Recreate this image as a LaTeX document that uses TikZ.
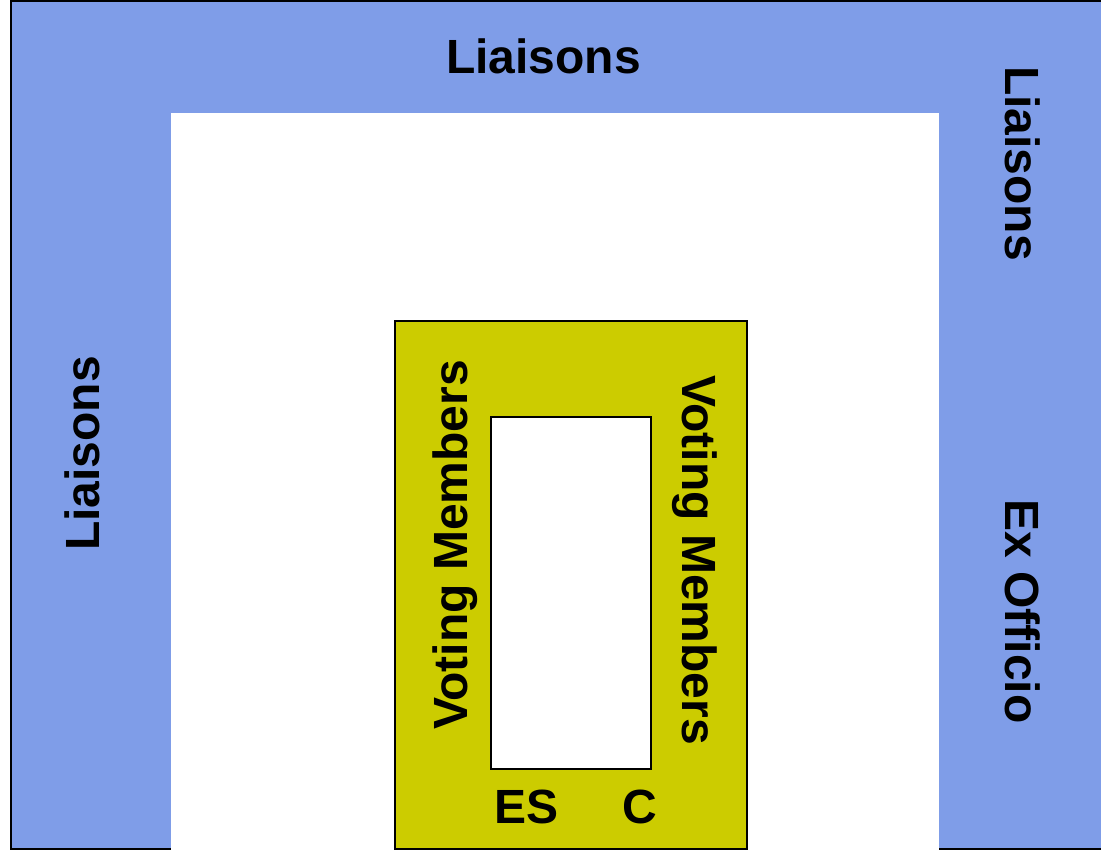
\documentclass[tikz,border=0pt]{standalone}
\usepackage{fontspec}
\setmainfont{Liberation Sans}
\usepackage{tikz}
\definecolor{liaisonblue}{RGB}{127,157,232}
\definecolor{voteyellow}{RGB}{204,204,0}
\tikzset{
	lbl/.style={inner sep=0pt, anchor=base, font=\fontsize{48}{58}\selectfont\bfseries},
	frame/.style={draw=black, line width=2.4pt}
}

\begin{document}
\begin{tikzpicture}[x=1pt,y=-1pt]
		\useasboundingbox (0,0) rectangle (1101,852);
		% outer ring of liaisons
		\fill[liaisonblue] (11,1) rectangle (1104,849);
		\draw[frame] (1104,1) -- (11,1) -- (11,849) -- (1104,849);
		\fill[white] (171,113) rectangle (939,854);
		% voting block
		\draw[frame, fill=voteyellow] (395,321) rectangle (747,849);
		\draw[frame, fill=white] (491,417) rectangle (651,769);
		%
		\node[lbl] (ltop) at (543.5,73) {Liaisons};
		\node[lbl, rotate=90] (lleft) at (99,453.5) {Liaisons};
		\node[lbl, rotate=-90] (lright) at (1005,163.5) {Liaisons};
		\node[lbl, rotate=-90] (exoff) at (1005,611.5) {Ex Officio};
		\node[lbl, rotate=90] (vleft) at (467,545) {Voting Members};
		\node[lbl, rotate=-90] (vright) at (682,560) {Voting Members};
		\node[lbl] (es) at (526.5,823) {ES};
		\node[lbl] (chair) at (639.5,823) {C};
	\end{tikzpicture}
\end{document}
